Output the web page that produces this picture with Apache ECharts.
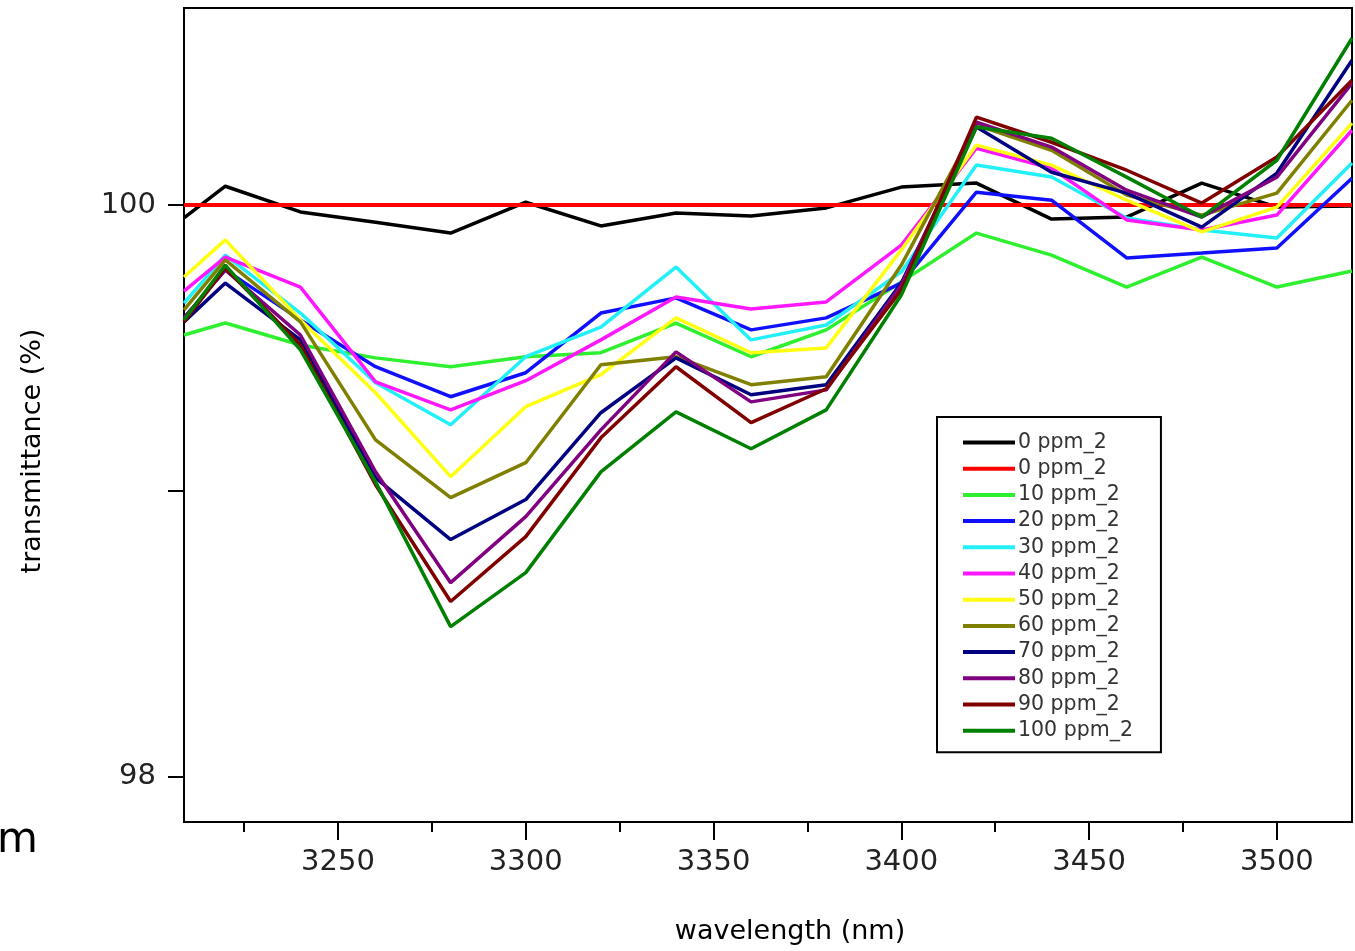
<!DOCTYPE html>
<html><head><meta charset="utf-8">
<script src="https://cdn.jsdelivr.net/npm/echarts@6/dist/echarts.min.js"></script>
<style>html,body{margin:0;padding:0;background:#fff}#c{width:1355px;height:951px}</style>
</head><body><div id="c"></div>
<script>
const wavelengths = [3209, 3220, 3240, 3260, 3280, 3300, 3320, 3340, 3360, 3380, 3400, 3420, 3440, 3460, 3480, 3500, 3520];
const seriesNames = ['0 ppm_2', '0 ppm_2 ', '10 ppm_2', '20 ppm_2', '30 ppm_2', '40 ppm_2', '50 ppm_2', '60 ppm_2', '70 ppm_2', '80 ppm_2', '90 ppm_2', '100 ppm_2'];
const seriesColors = ['#000000', '#ff0000', '#2ef02e', '#1010ff', '#22f0f8', '#ff18ff', '#ffff10', '#808000', '#000080', '#800080', '#800000', '#008000'];
const ppm0a = [99.955, 100.066, 99.976, 99.94, 99.902, 100.01, 99.927, 99.972, 99.962, 99.99, 100.063, 100.077, 99.951, 99.958, 100.077, 99.993, 99.997];
const ppm0b = [100, 100, 100, 100, 100, 100, 100, 100, 100, 100, 100, 100, 100, 100, 100, 100, 100];
const ppm10 = [99.545, 99.587, 99.51, 99.465, 99.434, 99.469, 99.483, 99.587, 99.469, 99.563, 99.731, 99.902, 99.825, 99.713, 99.818, 99.713, 99.769];
const ppm20 = [99.605, 99.773, 99.598, 99.434, 99.329, 99.413, 99.622, 99.675, 99.563, 99.605, 99.727, 100.045, 100.017, 99.815, 99.832, 99.85, 100.094];
const ppm30 = [99.657, 99.825, 99.622, 99.378, 99.231, 99.469, 99.573, 99.783, 99.528, 99.58, 99.766, 100.14, 100.098, 99.955, 99.913, 99.885, 100.147];
const ppm40 = [99.699, 99.818, 99.713, 99.381, 99.283, 99.385, 99.528, 99.678, 99.636, 99.661, 99.86, 100.199, 100.129, 99.948, 99.913, 99.965, 100.262];
const ppm50 = [99.748, 99.878, 99.598, 99.343, 99.049, 99.294, 99.406, 99.605, 99.483, 99.5, 99.843, 100.21, 100.14, 100.017, 99.906, 99.993, 100.287];
const ppm60 = [99.633, 99.808, 99.591, 99.178, 98.976, 99.098, 99.441, 99.469, 99.371, 99.399, 99.79, 100.28, 100.192, 100.035, 99.965, 100.042, 100.367];
const ppm70 = [99.591, 99.727, 99.528, 99.045, 98.829, 98.969, 99.273, 99.465, 99.336, 99.371, 99.727, 100.273, 100.115, 100.042, 99.923, 100.112, 100.507];
const ppm80 = [99.605, 99.773, 99.545, 99.066, 98.678, 98.909, 99.213, 99.486, 99.311, 99.353, 99.72, 100.29, 100.203, 100.052, 99.958, 100.098, 100.427];
const ppm90 = [99.591, 99.78, 99.51, 99.021, 98.612, 98.839, 99.185, 99.434, 99.238, 99.357, 99.703, 100.308, 100.22, 100.122, 100.007, 100.168, 100.437];
const ppm100 = [99.598, 99.79, 99.493, 99.031, 98.524, 98.713, 99.066, 99.276, 99.147, 99.283, 99.685, 100.273, 100.234, 100.098, 99.958, 100.157, 100.584];
const xMajorTicks = [3250, 3300, 3350, 3400, 3450, 3500];
const xMinorTicks = [3225, 3275, 3325, 3375, 3425, 3475];
const yTicks = [98, 99, 100];
const yLabels = [98, 100];

const allValues = [ppm0a, ppm0b, ppm10, ppm20, ppm30, ppm40, ppm50, ppm60, ppm70, ppm80, ppm90, ppm100];
const FONT = 'DejaVu Sans';

const chart = echarts.init(document.getElementById('c'), null, {renderer: 'canvas'});
const series = allValues.map((vals, i) => ({
  name: seriesNames[i],
  type: 'line',
  xAxisIndex: 0,
  data: wavelengths.map((w, k) => [w, vals[k]]),
  showSymbol: false,
  symbol: 'none',
  color: seriesColors[i],
  lineStyle: {width: i === 1 ? 4 : 3.5, color: seriesColors[i]},
  animation: false,
  z: 2
}));

chart.setOption({
  backgroundColor: '#fff',
  animation: false,
  grid: {left: 184, top: 8, right: 3, bottom: 129, show: true, borderColor: '#000', borderWidth: 2, backgroundColor: 'transparent'},
  legend: {
    data: seriesNames,
    orient: 'vertical',
    left: 937, top: 417,
    padding: [15, 28, 11, 26],
    itemGap: 5.2,
    itemWidth: 52, itemHeight: 4,
    icon: 'rect',
    borderColor: '#000', borderWidth: 2,
    backgroundColor: '#fff',
    textStyle: {fontFamily: FONT, fontSize: 20.5, color: '#333', lineHeight: 20, padding: [0, 0, 0, -2]},
    selectedMode: false
  },
  xAxis: [{
    type: 'value', min: 3209, max: 3520, position: 'bottom',
    axisLine: {show: true, lineStyle: {color: '#000', width: 2}},
    axisTick: {show: true, customValues: xMajorTicks, length: 18, inside: false, lineStyle: {color: '#000', width: 2}},
    axisLabel: {show: true, customValues: xMajorTicks, formatter: v => String(v), fontFamily: FONT, fontSize: 29, color: '#222', margin: 26},
    splitLine: {show: false},
    name: 'wavelength (nm)', nameLocation: 'middle', nameGap: 96,
    nameTextStyle: {fontFamily: FONT, fontSize: 27, color: '#000', padding: [0, 0, 0, 44]}
  }, {
    type: 'value', min: 3209, max: 3520, position: 'bottom', offset: 0,
    axisLine: {show: false},
    axisTick: {show: true, customValues: xMinorTicks, length: 10, inside: false, lineStyle: {color: '#000', width: 2}},
    axisLabel: {show: false},
    splitLine: {show: false}
  }],
  yAxis: {
    type: 'value', min: 97.84, max: 100.69,
    axisLine: {show: true, lineStyle: {color: '#000', width: 2}},
    axisTick: {show: true, customValues: yTicks, length: 16, inside: false, lineStyle: {color: '#000', width: 2}},
    axisLabel: {show: true, customValues: yLabels, formatter: v => String(v), fontFamily: FONT, fontSize: 29, color: '#222', margin: 28},
    splitLine: {show: false},
    name: 'transmittance (%)', nameLocation: 'middle', nameRotate: 90, nameGap: 138,
    nameTextStyle: {fontFamily: FONT, fontSize: 27, color: '#000', padding: [0, 72, 0, 0]}
  },
  graphic: [{
    type: 'text', left: -3, top: 820,
    style: {text: 'm', fontFamily: FONT, fontSize: 42, fill: '#000'}
  }],
  series: series
});
</script></body></html>
